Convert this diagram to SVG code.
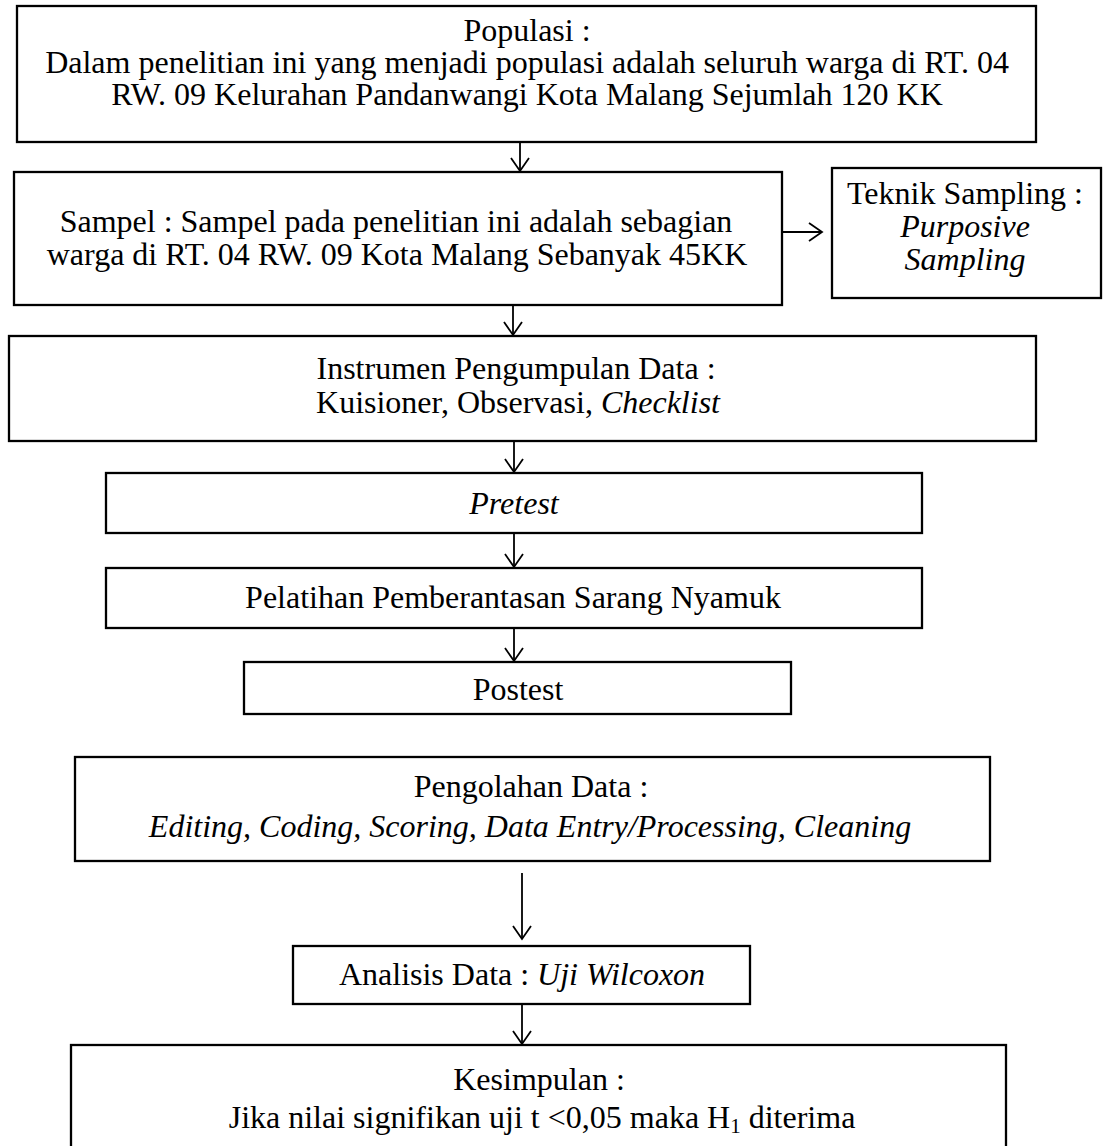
<svg xmlns="http://www.w3.org/2000/svg" width="1108" height="1146" viewBox="0 0 1108 1146">
<style>
.box{fill:#fff;stroke:#000;stroke-width:2.3}
.t{font-family:"Liberation Serif","Times New Roman",serif;font-size:32px;fill:#000;text-anchor:middle}
.i{font-style:italic}
.c{fill:none;stroke:#000;stroke-width:1.8}
</style>
<defs>
<marker id="ah" markerUnits="userSpaceOnUse" viewBox="0 0 16 20" refX="14" refY="10" markerWidth="16" markerHeight="20" orient="auto">
<path d="M1,1 L14,10 L1,19" fill="none" stroke="#000" stroke-width="1.8"/>
</marker>
</defs>
<rect width="1108" height="1146" fill="#fff"/>
<g id="populasi">
<rect class="box" x="17" y="6" width="1019" height="136"/>
<text class="t" x="527" y="41">Populasi :</text>
<text class="t" x="527" y="73">Dalam penelitian ini yang menjadi populasi adalah seluruh warga di RT. 04</text>
<text class="t" x="527" y="105">RW. 09 Kelurahan Pandanwangi Kota Malang Sejumlah 120 KK</text>
</g>
<g id="sampel">
<rect class="box" x="14" y="172" width="768" height="133"/>
<text class="t" x="396" y="232">Sampel : Sampel pada penelitian ini adalah sebagian</text>
<text class="t" x="397" y="265">warga di RT. 04 RW. 09 Kota Malang Sebanyak 45KK</text>
</g>
<g id="teknik">
<rect class="box" x="832" y="168" width="269" height="130"/>
<text class="t" x="965" y="204">Teknik Sampling :</text>
<text class="t i" x="965" y="237">Purposive</text>
<text class="t i" x="965" y="270">Sampling</text>
</g>
<g id="instrumen">
<rect class="box" x="9" y="336" width="1027" height="105"/>
<text class="t" x="516" y="379">Instrumen Pengumpulan Data :</text>
<text class="t" x="518" y="413">Kuisioner, Observasi, <tspan class="i">Checklist</tspan></text>
</g>
<g id="pretest">
<rect class="box" x="106" y="473" width="816" height="60"/>
<text class="t i" x="514" y="514">Pretest</text>
</g>
<g id="pelatihan">
<rect class="box" x="106" y="568" width="816" height="60"/>
<text class="t" x="513" y="608">Pelatihan Pemberantasan Sarang Nyamuk</text>
</g>
<g id="postest">
<rect class="box" x="244" y="662" width="547" height="52"/>
<text class="t" x="518" y="700">Postest</text>
</g>
<g id="pengolahan">
<rect class="box" x="75" y="757" width="915" height="104"/>
<text class="t" x="531" y="797">Pengolahan Data :</text>
<text class="t i" x="530" y="837">Editing, Coding, Scoring, Data Entry/Processing, Cleaning</text>
</g>
<g id="analisis">
<rect class="box" x="293" y="946" width="457" height="58"/>
<text class="t" x="522" y="985">Analisis Data : <tspan class="i">Uji Wilcoxon</tspan></text>
</g>
<g id="kesimpulan">
<rect class="box" x="71" y="1045" width="935" height="115"/>
<text class="t" x="539" y="1090">Kesimpulan :</text>
<text class="t" x="542" y="1128">Jika nilai signifikan uji t &lt;0,05 maka H<tspan font-size="21" dy="5">1</tspan><tspan dy="-5"> diterima</tspan></text>
</g>
<g id="connectors">
<line class="c" x1="520" y1="142" x2="520" y2="171" marker-end="url(#ah)"/>
<line class="c" x1="782" y1="232" x2="822" y2="232" marker-end="url(#ah)"/>
<line class="c" x1="513" y1="305" x2="513" y2="335" marker-end="url(#ah)"/>
<line class="c" x1="514" y1="441" x2="514" y2="472" marker-end="url(#ah)"/>
<line class="c" x1="514" y1="533" x2="514" y2="567" marker-end="url(#ah)"/>
<line class="c" x1="514" y1="628" x2="514" y2="661" marker-end="url(#ah)"/>
<line class="c" x1="522" y1="873" x2="522" y2="939" marker-end="url(#ah)"/>
<line class="c" x1="522" y1="1004" x2="522" y2="1044" marker-end="url(#ah)"/>
</g>
</svg>
